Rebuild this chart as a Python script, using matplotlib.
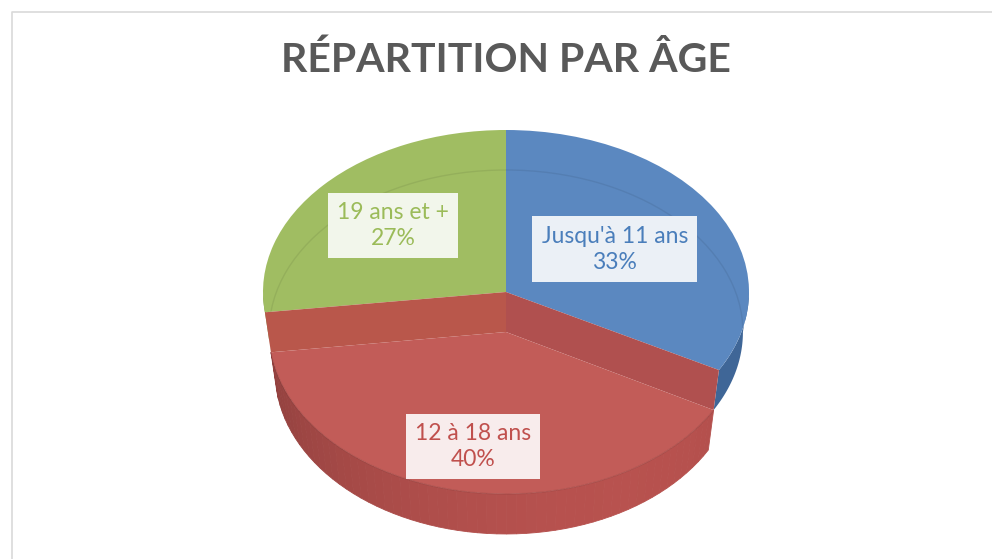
import numpy as np
import matplotlib.pyplot as plt
from matplotlib.colors import to_rgb
from matplotlib.patches import Wedge, Polygon, Arc
from matplotlib.transforms import Affine2D

categories = ["Jusqu'à 11 ans", "12 à 18 ans", "19 ans et +"]
shares = [33, 40, 27]
pct_labels = ["33%", "40%", "27%"]
lowered = [False, True, False]  # the front slice sits one thickness lower

face_colors = ["#5b88c0", "#c25c58", "#a0bd62"]
wall_colors = ["#3f6697", "#b4504d", "#7f9a48"]
text_colors = ["#4a7ebb", "#c0504d", "#9bbb59"]
box_colors = ["#ebf0f6", "#f8ecec", "#f2f6eb"]
label_radius = [0.52, 0.72, 0.62]

W, H = 992, 559
CX, CY = 506, H - 292
RX, RY = 243, 162
DEPTH = 40
PERSP = 0.975  # each thickness further down looks a little narrower


def xscale(off):
    return 1 - (1 - PERSP) * off / DEPTH


def rim(theta_deg, off):
    t = np.radians(theta_deg)
    return np.column_stack([CX + xscale(off) * RX * np.cos(t), CY + RY * np.sin(t) - off])


def wall(ax, t1, t2, off, color, shade=False):
    # side wall of a slice between angles t1..t2 (front part only)
    lo, hi = max(t1, -180), min(t2, 0)
    if hi <= lo:
        return
    ts = np.linspace(lo, hi, 60)
    if not shade:
        pts = np.vstack([rim(ts, off), rim(ts[::-1], off + DEPTH)])
        ax.add_patch(Polygon(pts, closed=True, fc=color, ec="none"))
        return
    base = np.array(to_rgb(color))
    for a, b in zip(ts[:-1], ts[1:]):
        k = 0.72 + 0.3 * (np.cos(np.radians((a + b) / 2 + 60)) * 0.5 + 0.5)
        c = np.clip(base * k, 0, 1)
        pts = np.vstack([rim([a, b], off), rim([b, a], off + DEPTH)])
        ax.add_patch(Polygon(pts, closed=True, fc=c, ec=c, lw=0.6))


fig = plt.figure(figsize=(W / 100, H / 100), dpi=100)
ax = fig.add_axes([0, 0, 1, 1])
ax.set_xlim(0, W)
ax.set_ylim(0, H)
ax.axis("off")

# chart frame
ax.plot([12, 12, W + 5], [-5, H - 12, H - 12], color="#d9d9d9", lw=1.2)

total = sum(shares)
angles = []
start = 90.0
for s in shares:
    end = start - s / total * 360
    angles.append((end, start))
    start = end

# walls of slices that stay on top
for i, (t1, t2) in enumerate(angles):
    if not lowered[i]:
        wall(ax, t1, t2, 0, wall_colors[i])
        wall(ax, t1 - 360, t2 - 360, 0, wall_colors[i])

# top faces of upper slices, with the lower rim faintly showing through
for i, (t1, t2) in enumerate(angles):
    if lowered[i]:
        continue
    tr = Affine2D().scale(RX, RY).translate(CX, CY) + ax.transData
    wedge = Wedge((0, 0), 1, t1, t2, fc=face_colors[i], ec="none", transform=tr)
    ax.add_patch(wedge)
    tr_low = Affine2D().scale(RX * xscale(DEPTH), RY).translate(CX, CY - DEPTH) + ax.transData
    ghost = Arc((0, 0), 2, 2, theta1=0, theta2=360, color="black", alpha=0.07,
                lw=1, transform=tr_low)
    ax.add_patch(ghost)
    ghost.set_clip_path(wedge)

# lowered slice: cut faces, wall, top
for i, (t1, t2) in enumerate(angles):
    if not lowered[i]:
        continue
    c0 = np.array([[CX, CY]])
    cd = np.array([[CX, CY - DEPTH]])
    for t, col in ((t1, "#b9574b"), (t2, "#b0504f")):
        pts = np.vstack([c0, rim([t], 0), rim([t], DEPTH), cd])
        ax.add_patch(Polygon(pts, closed=True, fc=col, ec="none"))
    wall(ax, t1, t2, DEPTH, wall_colors[i], shade=True)
    tr = Affine2D().scale(RX * xscale(DEPTH), RY).translate(CX, CY - DEPTH) + ax.transData
    ax.add_patch(Wedge((0, 0), 1, t1, t2, fc=face_colors[i], ec="none", transform=tr))
    ax.add_patch(Arc((0, 0), 2, 2, theta1=t1, theta2=t2, color="black",
                     alpha=0.08, lw=1, transform=tr))

# data labels
for i, (t1, t2) in enumerate(angles):
    mid = np.radians((t1 + t2) / 2)
    off = DEPTH if lowered[i] else 0
    x = CX + label_radius[i] * RX * np.cos(mid)
    y = CY + label_radius[i] * RY * np.sin(mid) - off
    ax.text(x, y, f"{categories[i]}\n{pct_labels[i]}", ha="center", va="center",
            fontsize=16.5, family="Lato", color=text_colors[i], linespacing=1.3,
            bbox=dict(boxstyle="square,pad=0.4", fc=box_colors[i], ec="none"))

fig.text(506 / W, 1 - 60 / H, "RÉPARTITION PAR ÂGE", ha="center", va="center",
         fontsize=29.5, fontweight="bold", family="Lato", color="#595959")

fig.savefig("out.png", dpi=100)
